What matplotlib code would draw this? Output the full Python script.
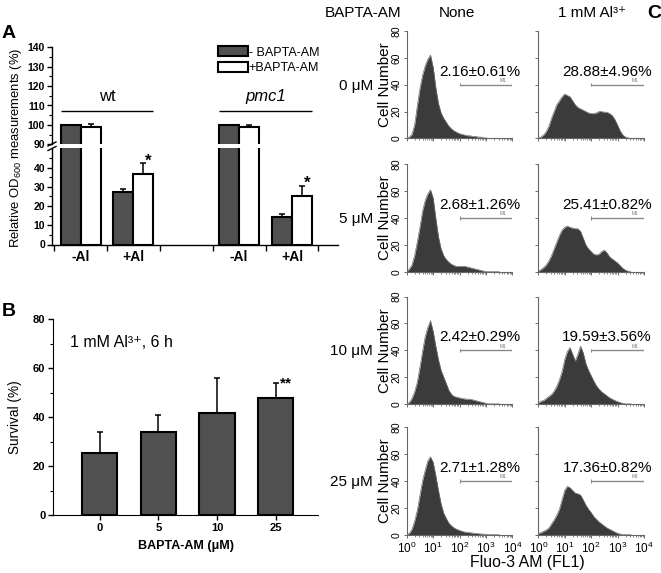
import numpy as np
import matplotlib
matplotlib.use('Agg')
import matplotlib.pyplot as plt
from matplotlib.patches import Patch
from matplotlib.lines import Line2D
from matplotlib.ticker import FixedLocator, MultipleLocator, LogLocator, NullFormatter

plt.rcParams['font.family'] = ['Liberation Sans', 'DejaVu Sans']
plt.rcParams['mathtext.fontset'] = 'custom'
plt.rcParams['mathtext.rm'] = 'Liberation Sans'
plt.rcParams['mathtext.it'] = 'Liberation Sans:italic'
plt.rcParams['mathtext.bf'] = 'Liberation Sans:bold'

W, H = 661, 573
DARK = '#505050'

# ---------------- panel A: relative OD600 ----------------
a_groups = ['wt', 'pmc1']
a_labels = ['-Al', '+Al', '-Al', '+Al']
a_pos = [0, 1, 3, 4]
a_minus = [100.0, 27.3, 100.0, 14.3]
a_minus_err = [0.0, 1.3, 0.0, 1.3]
a_plus = [98.7, 36.5, 99.0, 25.3]
a_plus_err = [1.8, 5.6, 0.8, 5.2]
a_star = ['', '*', '', '*']

# ---------------- panel B: survival ----------------
b_doses = ['0', '5', '10', '25']
b_survival = [25.2, 34.0, 41.8, 47.9]
b_err = [8.5, 6.8, 14.0, 6.1]
b_star = ['', '', '', '**']

# ---------------- panel C: Fluo-3 AM histograms ----------------
c_rows = ['0 μM', '5 μM', '10 μM', '25 μM']
c_cols = ['None', '1 mM Al³⁺']
c_pct_none = ['2.16±0.61%', '2.68±1.26%', '2.42±0.29%', '2.71±1.28%']
c_pct_al = ['28.88±4.96%', '25.41±0.82%', '19.59±3.56%', '17.36±0.82%']

# channel position in decades (10^0 .. 10^3.5)
fl1_decades = [0.0, 0.1, 0.2, 0.3, 0.4, 0.5, 0.6, 0.7, 0.8, 0.9,
               1.0, 1.1, 1.2, 1.3, 1.4, 1.5, 1.6, 1.7, 1.8, 1.9,
               2.0, 2.1, 2.2, 2.3, 2.4, 2.5, 2.6, 2.7, 2.8, 2.9,
               3.0, 3.1, 3.2, 3.3, 3.4, 3.5]

none_0 = [0, 1, 3, 10, 24, 37, 47, 54, 59, 62,
          53, 38, 26, 19, 15, 12, 9, 7, 5.5, 4.5,
          3.5, 3, 2.5, 2, 2, 1.5, 1.5, 1, 1, 0.5,
          0.3, 0, 0, 0, 0, 0]
al_0 = [0.5, 1, 2.5, 5, 9, 15, 20, 25, 28, 31,
        33, 32, 31, 28, 25, 23, 22, 21, 20, 19,
        18.5, 18.5, 19, 20, 20, 19.5, 19.5, 18.5, 17, 14,
        10, 5.5, 2.5, 1, 0.3, 0]
none_5 = [0, 2, 5, 12, 22, 33, 45, 53, 58, 61,
          55, 40, 26, 17, 12, 9, 7, 5.5, 4.5, 4,
          4, 4, 4, 3.5, 3, 2.5, 2, 1.5, 1, 0.5,
          0.2, 0, 0, 0, 0, 0]
al_5 = [0.5, 1.5, 3, 5, 8, 12, 17, 22, 27, 31,
        33, 34, 33, 32.5, 32, 32, 30, 25, 20, 17,
        15, 13, 12.5, 13, 15, 16, 14, 11, 9.5, 8,
        6.5, 4.5, 2.5, 1.2, 0.4, 0]
none_10 = [0, 1, 4, 9, 16, 27, 39, 50, 57, 62,
           54, 43, 33, 25, 20, 15, 10, 7, 5.5, 5,
           4.5, 4, 3.7, 3.5, 3.5, 3, 2.5, 2, 1.5, 1,
           0.5, 0, 0, 0, 0, 0]
al_10 = [0.5, 2, 2.5, 4, 5.5, 7, 9.5, 13, 18, 24,
         33, 39, 42, 37, 32, 37, 43, 38, 30, 25,
         21, 17, 13.5, 11, 9, 7.5, 6, 4.5, 3.5, 2.5,
         1.7, 1, 0.4, 0, 0, 0]
none_25 = [0, 1, 4, 10, 18, 29, 40, 48, 55, 58,
           54, 44, 33, 23, 16, 12, 8.5, 6.5, 5, 4,
           3.2, 2.5, 2, 1.7, 1.5, 1.2, 1, 0.8, 0.6, 0.4,
           0.3, 0, 0, 0, 0, 0]
al_25 = [1, 1.5, 2.5, 3.5, 5, 8, 11, 14.5, 19, 26,
         33, 36, 35, 33, 31, 30.5, 29.5, 26, 22, 19,
         16.5, 13.5, 11.5, 9.5, 8, 6.5, 5, 4, 3, 2,
         1, 0.5, 0, 0, 0, 0]

hist_none = [none_0, none_5, none_10, none_25]
hist_al = [al_0, al_5, al_10, al_25]


def px_axes(fig, left, top, right, bottom):
    return fig.add_axes([left / W, 1 - bottom / H, (right - left) / W, (bottom - top) / H])


def fx(x):
    return x / W


def fy(y):
    return 1 - y / H


fig = plt.figure(figsize=(W / 100, H / 100), dpi=100)

# ================= panel A (broken y axis) =================
ax_lo = px_axes(fig, 52, 148.3, 338, 244.5)
ax_hi = px_axes(fig, 52, 47.3, 338, 144.3)
bw = 0.378
xp = np.array(a_pos, dtype=float)

for ax in (ax_lo, ax_hi):
    ax.bar(xp - bw / 2, a_minus, width=bw, color=DARK, edgecolor='k', lw=1.5, zorder=2)
    ax.bar(xp + bw / 2, a_plus, width=bw, color='white', edgecolor='k', lw=1.5, zorder=2)
    ax.errorbar(xp - bw / 2, a_minus, yerr=[np.zeros(4), a_minus_err], fmt='none',
                ecolor='k', elinewidth=1.1, capsize=2, capthick=1.1, zorder=3)
    ax.errorbar(xp + bw / 2, a_plus, yerr=[np.zeros(4), a_plus_err], fmt='none',
                ecolor='k', elinewidth=1.1, capsize=2, capthick=1.1, zorder=3)
    ax.set_xlim(-0.54, 4.87)
    ax.spines['top'].set_visible(False)
    ax.spines['right'].set_visible(False)
    ax.spines['left'].set_linewidth(1.0)
    ax.tick_params(axis='y', which='major', direction='out', length=3.5, width=1.0,
                   labelsize=7.5, pad=1.5)
    ax.tick_params(axis='y', which='minor', direction='out', length=2, width=0.8)

ax_lo.set_ylim(0, 50)
ax_lo.yaxis.set_major_locator(FixedLocator([0, 10, 20, 30, 40]))
ax_lo.yaxis.set_minor_locator(FixedLocator([5, 15, 25, 35, 45]))
ax_lo.spines['bottom'].set_linewidth(1.0)
ax_lo.set_xticks(a_pos)
ax_lo.set_xticklabels(a_labels, fontsize=10, fontweight='bold')
ax_lo.tick_params(axis='x', which='major', length=0, pad=4)
ax_lo.xaxis.set_minor_locator(FixedLocator([-0.5, 0.5, 1.5, 2.5, 3.5, 4.5]))
ax_lo.tick_params(axis='x', which='minor', direction='out', length=4, width=1.0)
for lab in ax_lo.get_yticklabels():
    lab.set_fontweight('bold')

ax_hi.set_ylim(90, 140)
ax_hi.yaxis.set_major_locator(FixedLocator([90, 100, 110, 120, 130, 140]))
ax_hi.yaxis.set_minor_locator(FixedLocator([95, 105, 115, 125, 135]))
ax_hi.spines['bottom'].set_visible(False)
ax_hi.set_xticks([])
for lab in ax_hi.get_yticklabels():
    lab.set_fontweight('bold')

# group lines and names
for g, name in enumerate(a_groups):
    x0 = a_pos[2 * g] - bw
    x1 = a_pos[2 * g + 1] + bw
    ax_hi.hlines(107.4, x0, x1, color='k', lw=1.0)
    ax_hi.text((a_pos[2 * g] + a_pos[2 * g + 1]) / 2, 114.4, name, ha='center', va='center',
               fontsize=12, style='italic' if name == 'pmc1' else 'normal')

# significance stars
for i, s in enumerate(a_star):
    if s:
        ax_lo.text(xp[i] + bw / 2 + 0.09, a_plus[i] + a_plus_err[i] + 1.2, s,
                   ha='center', va='center', fontsize=12, fontweight='bold')

# axis break marks
for y0 in (150.5, 146.0):
    fig.add_artist(Line2D([fx(48), fx(56)], [fy(y0), fy(y0 - 4)], color='k', lw=1.0))

fig.text(fx(16), fy(147.5), 'Relative OD$_{600}$ measurements (%)', rotation=90,
         ha='center', va='center', fontsize=9.4)

handles = [Patch(facecolor=DARK, edgecolor='k', lw=1.5, label='- BAPTA-AM'),
           Patch(facecolor='white', edgecolor='k', lw=1.5, label='+BAPTA-AM')]
fig.legend(handles=handles, loc='upper left', bbox_to_anchor=(fx(218), fy(46)),
           frameon=False, fontsize=9, handlelength=2.4, handleheight=0.9,
           handletextpad=0.05, labelspacing=0.25, borderpad=0, borderaxespad=0)

fig.text(fx(9), fy(33), 'A', ha='center', va='center', fontsize=14, fontweight='bold')

# ================= panel B =================
axb = px_axes(fig, 53, 319, 318, 515)
xb = np.arange(len(b_doses))
axb.bar(xb, b_survival, width=0.6, color=DARK, edgecolor='k', lw=1.5, zorder=2)
axb.errorbar(xb, b_survival, yerr=[np.zeros(len(b_err)), b_err], fmt='none', ecolor='k',
             elinewidth=1.1, capsize=2.5, capthick=1.1, zorder=3)
for i, s in enumerate(b_star):
    if s:
        axb.text(xb[i] + 0.18, b_survival[i] + b_err[i] - 0.3, s, ha='center', va='center',
                 fontsize=11, fontweight='bold')
axb.set_xlim(-0.793, 3.72)
axb.set_ylim(0, 80)
axb.spines['top'].set_visible(False)
axb.spines['right'].set_visible(False)
axb.yaxis.set_major_locator(MultipleLocator(20))
axb.yaxis.set_minor_locator(MultipleLocator(10))
axb.set_xticks(xb)
axb.set_xticklabels(b_doses)
axb.tick_params(axis='both', which='major', direction='out', length=3.5, width=1.0,
                labelsize=8, pad=2)
axb.tick_params(axis='y', which='minor', direction='out', length=2, width=0.8)
for lab in axb.get_xticklabels() + axb.get_yticklabels():
    lab.set_fontweight('bold')
axb.set_xlabel('BAPTA-AM (μM)', fontsize=9, fontweight='bold', labelpad=5)
axb.set_ylabel('Survival (%)', fontsize=9.8, labelpad=8)
axb.text(0.065, 0.88, '1 mM Al³⁺, 6 h', transform=axb.transAxes, ha='left',
         va='center', fontsize=11.5)
fig.text(fx(9), fy(311), 'B', ha='center', va='center', fontsize=14, fontweight='bold')

# ================= panel C =================
col_left = [406.7, 538.3]
row_top = [31.0, 164.3, 296.5, 427.3]
xs = 10 ** np.array(fl1_decades)

for r in range(4):
    for c in range(2):
        left = col_left[c]
        top = row_top[r]
        ax = px_axes(fig, left, top, left + 105.7, top + 107.4)
        counts = hist_none[r] if c == 0 else hist_al[r]
        ax.fill_between(xs, counts, 0, color='#3b3b3b', lw=0, zorder=2)
        ax.plot(xs, counts, color='#6e6e6e', lw=0.5, zorder=3)
        ax.set_xscale('log')
        ax.set_xlim(1, 1e4)
        ax.set_ylim(0, 80)
        for sp in ('top', 'right'):
            ax.spines[sp].set_visible(False)
        for sp in ('left', 'bottom'):
            ax.spines[sp].set_color('#666666')
            ax.spines[sp].set_linewidth(0.8)
        ax.yaxis.set_major_locator(FixedLocator([0, 20, 40, 60, 80]))
        ax.xaxis.set_major_locator(LogLocator(base=10, numticks=10))
        ax.xaxis.set_minor_locator(LogLocator(base=10, subs=np.arange(2, 10), numticks=10))
        ax.xaxis.set_minor_formatter(NullFormatter())
        ax.tick_params(axis='both', which='major', direction='out', length=2.5, width=0.6,
                       color='#555555')
        ax.tick_params(axis='both', which='minor', direction='out', length=1.5, width=0.5,
                       color='#555555')
        if c == 0:
            ax.tick_params(axis='y', labelsize=7.5, labelrotation=90, pad=1)
            for lab in ax.get_yticklabels():
                lab.set_va('center')
            ax.set_ylabel('Cell Number', fontsize=11, labelpad=0)
        else:
            ax.tick_params(axis='y', labelleft=False)
        if r == 3:
            ax.tick_params(axis='x', labelsize=8.5, pad=2)
        else:
            ax.tick_params(axis='x', labelbottom=False)

        # M1 gate marker
        ax.hlines(40, 1e2, 1e4, color='#8a8a8a', lw=1.0, zorder=4)
        ax.vlines([1e2, 1e4], 38.8, 41.2, color='#8a8a8a', lw=0.8, zorder=4)
        ax.text(10 ** 3.66, 41.2, 'M1', ha='center', va='bottom', fontsize=3.5,
                color='#777777')
        pct = c_pct_none[r] if c == 0 else c_pct_al[r]
        ax.text(10 ** 4.3, 49.8, pct, ha='right', va='center', fontsize=11, clip_on=False)

    fig.text(fx(373), fy(row_top[r] + 55), c_rows[r], ha='right', va='center', fontsize=11)

fig.text(fx(401), fy(13), 'BAPTA-AM', ha='right', va='center', fontsize=11)
fig.text(fx(457), fy(13), c_cols[0], ha='center', va='center', fontsize=11)
fig.text(fx(592), fy(13), c_cols[1], ha='center', va='center', fontsize=11)
fig.text(fx(654), fy(14), 'C', ha='center', va='center', fontsize=14, fontweight='bold')
fig.text(fx(527), fy(563), 'Fluo-3 AM (FL1)', ha='center', va='center', fontsize=11.4)

fig.savefig('out.png', dpi=100)
